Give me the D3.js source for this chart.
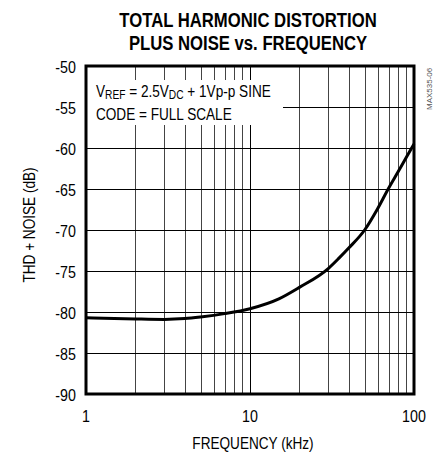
<!DOCTYPE html>
<html>
<head>
<meta charset="utf-8">
<script src="https://cdn.jsdelivr.net/npm/d3@7"></script>
<style>
  body { margin: 0; background: #fff; }
  text { font-family: "Liberation Sans", Arial, sans-serif; }
</style>
</head>
<body>
<div id="chart"></div>
<script>
// curve (kHz, dB)
var freq = [1, 2, 3, 4, 5, 7, 10, 15, 20, 30, 35, 40, 50, 60, 70, 80, 90, 100];
var thdn = [-80.7, -80.85, -80.9, -80.8, -80.6, -80.2, -79.6, -78.4, -77.0, -74.7, -73.4, -72.2, -70.0, -67.4, -64.9, -62.9, -61.1, -59.5];

var yTicks = [-50, -55, -60, -65, -70, -75, -80, -85, -90];
var xTicks = [1, 10, 100];
var xGrid = [2, 3, 4, 5, 6, 7, 8, 9, 10, 20, 30, 40, 50, 60, 70, 80, 90];

var W = 438, H = 456;
var margin = {left: 86, right: 24, top: 66, bottom: 62};
var width = W - margin.left - margin.right;
var height = H - margin.top - margin.bottom;

var svg = d3.select("#chart").append("svg")
    .attr("width", W)
    .attr("height", H);

var g = svg.append("g")
    .attr("transform", "translate(" + margin.left + "," + margin.top + ")");

var x = d3.scaleLog().domain([1, 100]).range([0, width]);
var y = d3.scaleLinear().domain([-90, -50]).range([height, 0]);

// narrow type, like the Helvetica Narrow of the datasheet
function narrow(parent, px, py, size, sx, rot) {
    return parent.append("text")
        .attr("transform", "translate(" + px + "," + py + ")" + (rot ? " rotate(" + rot + ")" : "") + " scale(" + sx + ",1)")
        .attr("font-size", size);
}

// grid
g.append("g").selectAll("line")
    .data(xGrid)
    .enter().append("line")
    .attr("x1", function(d) { return Math.round(x(d)) + 0.5; })
    .attr("x2", function(d) { return Math.round(x(d)) + 0.5; })
    .attr("y1", 0)
    .attr("y2", height)
    .attr("stroke", function(d) { return d == 10 ? "#000" : "#444"; })
    .attr("stroke-width", 1);

g.append("g").selectAll("line")
    .data(yTicks)
    .enter().append("line")
    .attr("x1", 0)
    .attr("x2", width)
    .attr("y1", function(d) { return Math.round(y(d)) + 0.5; })
    .attr("y2", function(d) { return Math.round(y(d)) + 0.5; })
    .attr("stroke", "#000")
    .attr("stroke-width", 1);

// white box behind the note
g.append("rect")
    .attr("x", 1)
    .attr("y", 14)
    .attr("width", 196)
    .attr("height", 45)
    .attr("fill", "#fff");

var note = narrow(g, 10, 31, 16, 0.85);
note.append("tspan").text("V");
note.append("tspan").attr("font-size", 12).attr("dy", 2).text("REF");
note.append("tspan").attr("dy", -2).text(" = 2.5V");
note.append("tspan").attr("font-size", 12).attr("dy", 2).text("DC");
note.append("tspan").attr("dy", -2).text(" + 1Vp-p SINE");

narrow(g, 10, 54, 16, 0.85).text("CODE = FULL SCALE");

// the curve
var line = d3.line()
    .x(function(d, i) { return x(freq[i]); })
    .y(function(d) { return y(d); })
    .curve(d3.curveMonotoneX);

g.append("path")
    .attr("d", line(thdn))
    .attr("fill", "none")
    .attr("stroke", "#000")
    .attr("stroke-width", 3)
    .attr("stroke-linejoin", "round");

// frame
g.append("rect")
    .attr("x", 0)
    .attr("y", 0)
    .attr("width", width)
    .attr("height", height)
    .attr("fill", "none")
    .attr("stroke", "#000")
    .attr("stroke-width", 3);

// tick labels
yTicks.forEach(function(d) {
    narrow(g, -10, y(d) + 7, 17, 0.84)
        .attr("text-anchor", "end")
        .text(d);
});

xTicks.forEach(function(d) {
    narrow(g, x(d), height + 28, 17, 0.84)
        .attr("text-anchor", "middle")
        .text(d);
});

// axis titles
narrow(g, width / 2 + 3, height + 55, 17, 0.8)
    .attr("text-anchor", "middle")
    .text("FREQUENCY (kHz)");

narrow(g, -51, 159, 17, 0.8, -90)
    .attr("text-anchor", "middle")
    .text("THD + NOISE (dB)");

// title
narrow(svg, 248, 26.5, 20, 0.835)
    .attr("text-anchor", "middle")
    .attr("font-weight", "bold")
    .text("TOTAL HARMONIC DISTORTION");
narrow(svg, 248, 50, 20, 0.835)
    .attr("text-anchor", "middle")
    .attr("font-weight", "bold")
    .text("PLUS NOISE vs. FREQUENCY");

// part id
narrow(svg, 432, 110, 8, 1, -90)
    .attr("fill", "#555")
    .text("MAX535-06");
</script>
</body>
</html>
